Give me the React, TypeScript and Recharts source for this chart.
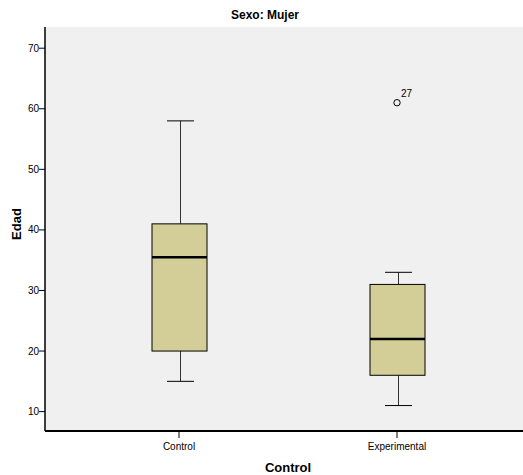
import { Bar, CartesianGrid, ComposedChart, Label, Scatter, XAxis, YAxis } from "recharts";

const groups = ["Control", "Experimental"];
const whiskerLow = [15, 11];
const q1 = [20, 16];
const median = [35.5, 22];
const q3 = [41, 31];
const whiskerHigh = [58, 33];
const outliers: (number | null)[] = [null, 61];
const outlierIds: (string | null)[] = [null, "27"];
const yTicks = [10, 20, 30, 40, 50, 60, 70];

const data = groups.map((g, i) => ({
  name: g,
  box: [q1[i], q3[i]],
  lo: whiskerLow[i],
  q1: q1[i],
  med: median[i],
  q3: q3[i],
  hi: whiskerHigh[i],
  outlier: outliers[i],
  outlierId: outlierIds[i],
}));

const FONT = '"Liberation Sans", Arial, sans-serif';

// box drawn from the bar's q1..q3 rect, other stats placed on the same scale
function BoxShape(props: any) {
  const { x, y, width, height, payload } = props;
  const top = Math.min(y, y + height);
  const bottom = Math.max(y, y + height);
  const k = (bottom - top) / (payload.q3 - payload.q1);
  const py = (v: number) => top + (payload.q3 - v) * k;
  const cx = Math.round(x + width / 2) + 0.5;
  const cap = 13.5;
  return (
    <g>
      <line x1={cx} x2={cx} y1={py(payload.hi)} y2={top} stroke="#333" strokeWidth={1} />
      <line x1={cx} x2={cx} y1={bottom} y2={py(payload.lo)} stroke="#333" strokeWidth={1} />
      <line x1={cx - cap} x2={cx + cap} y1={py(payload.hi)} y2={py(payload.hi)} stroke="#000" strokeWidth={1} />
      <line x1={cx - cap} x2={cx + cap} y1={py(payload.lo)} y2={py(payload.lo)} stroke="#000" strokeWidth={1} />
      <rect x={x} y={top} width={width} height={bottom - top} fill="#d3ce97" stroke="#000" strokeWidth={1} />
      <line x1={x} x2={x + width} y1={py(payload.med)} y2={py(payload.med)} stroke="#000" strokeWidth={2.5} />
    </g>
  );
}

function OutlierShape(props: any) {
  const { cx, cy, payload } = props;
  if (payload == null || payload.outlier == null || cx == null || cy == null || isNaN(cy)) return <g />;
  return (
    <g>
      <circle cx={cx} cy={cy} r={3.2} fill="none" stroke="#000" strokeWidth={1} />
      <text x={cx + 4} y={cy - 6} fontSize={10} fontFamily={FONT} fill="#000">
        {payload.outlierId}
      </text>
    </g>
  );
}

export default function App() {
  return (
    <div
      style={{
        position: "absolute",
        left: 0,
        top: 0,
        width: 523,
        height: 475,
        overflow: "hidden",
        background: "#fff",
        fontFamily: FONT,
      }}
    >
      <div
        style={{
          position: "absolute",
          left: 0,
          top: 8,
          width: 530,
          textAlign: "center",
          fontSize: 12,
          lineHeight: "14px",
          fontWeight: "bold",
          color: "#000",
        }}
      >
        Sexo: Mujer
      </div>
      <ComposedChart width={531} height={475} data={data} margin={{ top: 27, right: 0, bottom: 0, left: 0 }}>
        <CartesianGrid fill="#f0f0f0" horizontal={false} vertical={false} stroke="none" />
        <XAxis
          dataKey="name"
          height={44}
          padding={{ left: 25, right: 25 }}
          tick={{ fontSize: 10, fill: "#000", fontFamily: FONT }}
          tickSize={7}
          tickMargin={5}
          tickLine={{ stroke: "#000" }}
          axisLine={{ stroke: "#000", strokeWidth: 2 }}
        >
          <Label
            value="Control"
            position="insideBottom"
            offset={3}
            style={{ fontSize: 13, fontWeight: "bold", fill: "#000", fontFamily: FONT }}
          />
        </XAxis>
        <XAxis
          xAxisId="top"
          dataKey="name"
          orientation="top"
          height={0}
          tick={false}
          tickLine={false}
          axisLine={{ stroke: "#000", strokeWidth: 1.5 }}
        />
        <YAxis
          type="number"
          width={45}
          domain={[6.8, 73.5]}
          allowDataOverflow
          ticks={yTicks}
          tick={{ fontSize: 10, fill: "#000", fontFamily: FONT }}
          tickSize={6}
          tickMargin={0}
          tickLine={{ stroke: "#000" }}
          axisLine={{ stroke: "#000", strokeWidth: 1.5 }}
        >
          <Label
            content={({ viewBox }: any) => {
              const cy = viewBox.y + viewBox.height / 2 - 5;
              return (
                <text
                  x={16}
                  y={cy}
                  transform={`rotate(-90, 16, ${cy})`}
                  textAnchor="middle"
                  dominantBaseline="central"
                  fontSize={13}
                  fontWeight="bold"
                  fontFamily={FONT}
                  fill="#000"
                >
                  Edad
                </text>
              );
            }}
          />
        </YAxis>
        <Bar dataKey="box" barSize={55} shape={BoxShape} isAnimationActive={false} />
        <Scatter dataKey="outlier" shape={OutlierShape} isAnimationActive={false} />
      </ComposedChart>
    </div>
  );
}
